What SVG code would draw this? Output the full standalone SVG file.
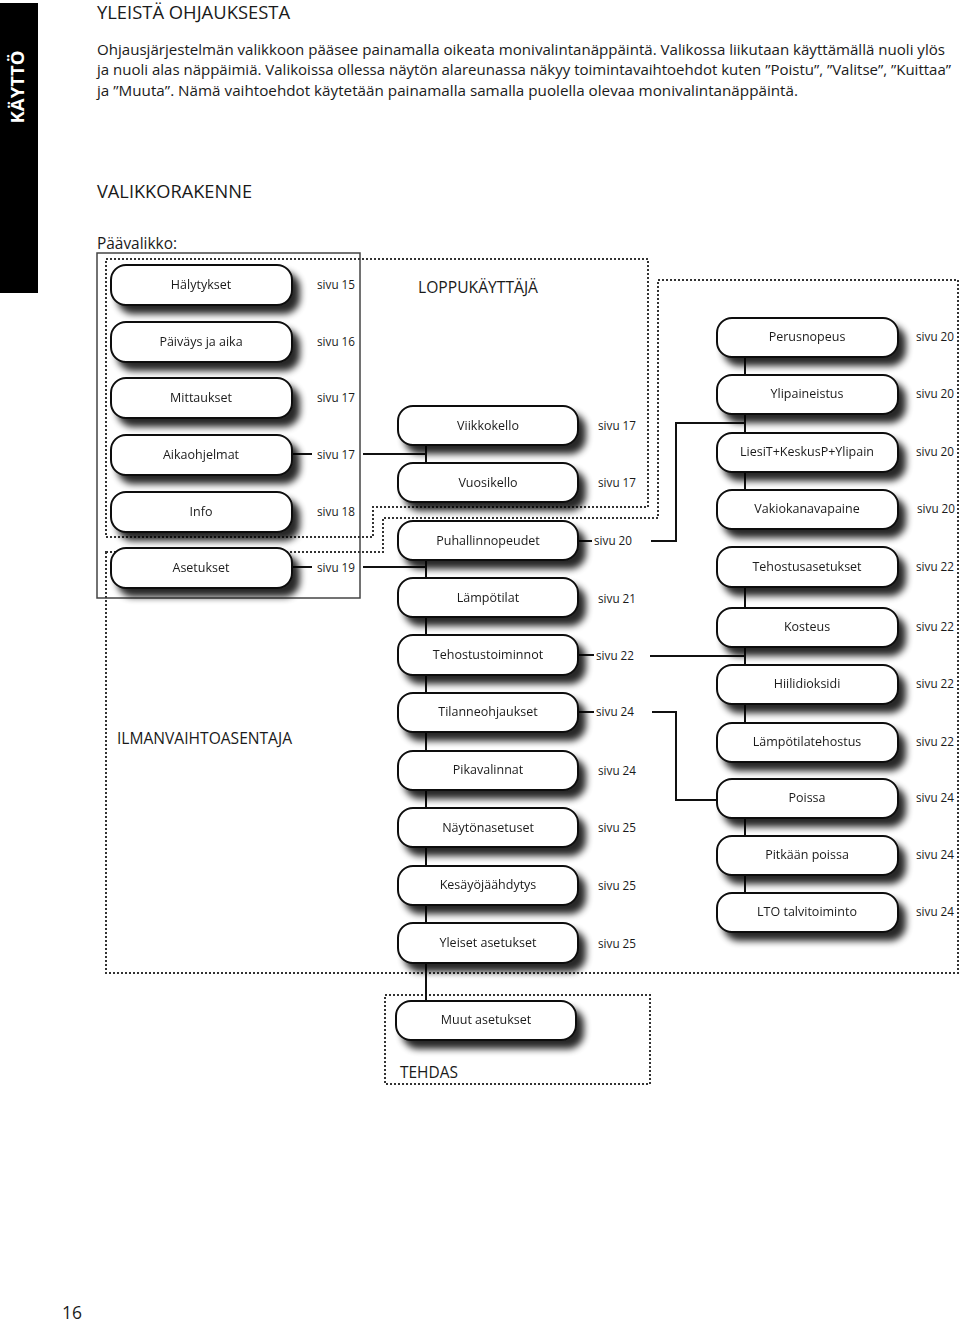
<svg xmlns="http://www.w3.org/2000/svg" width="960" height="1322" viewBox="0 0 960 1322">
<style>
text{font-family:"Open Sans","Liberation Sans",sans-serif;fill:#1a1a1a}
.h{font-size:19px}
.p{font-size:14.5px}
.reg{font-size:16.5px}
.lbl{font-size:12.5px;text-anchor:middle}
.sv{font-size:12.5px}
.bx{fill:#fff;stroke:#111;stroke-width:2}
.dot{fill:none;stroke:#333;stroke-width:2;stroke-dasharray:2 2}
.ln{fill:none;stroke:#111;stroke-width:2}
</style>
<defs>
<filter id="sh" x="-10%" y="-30%" width="130%" height="200%">
<feGaussianBlur in="SourceAlpha" stdDeviation="3.8"/>
<feOffset dx="7" dy="8" result="b"/>
<feComponentTransfer in="b" result="c"><feFuncA type="linear" slope="0.85"/></feComponentTransfer>
<feMerge><feMergeNode in="c"/><feMergeNode in="SourceGraphic"/></feMerge>
</filter>
</defs>
<rect width="960" height="1322" fill="#fff"/>
<g id="sidebar">
<rect x="0" y="3" width="38" height="290" fill="#000"/>
<text transform="translate(24,87) rotate(-90)" text-anchor="middle" style="font-size:17px;font-weight:bold;fill:#fff" textLength="73" lengthAdjust="spacingAndGlyphs">KÄYTTÖ</text>
</g>
<g id="header">
<text class="h" x="97" y="19" textLength="193" lengthAdjust="spacingAndGlyphs">YLEISTÄ OHJAUKSESTA</text>
<text class="p" x="97" y="55" textLength="848" lengthAdjust="spacingAndGlyphs">Ohjausjärjestelmän valikkoon pääsee painamalla oikeata monivalintanäppäintä. Valikossa liikutaan käyttämällä nuoli ylös</text>
<text class="p" x="97" y="75" textLength="854" lengthAdjust="spacingAndGlyphs">ja nuoli alas näppäimiä. Valikoissa ollessa näytön alareunassa näkyy toimintavaihtoehdot kuten ”Poistu”, ”Valitse”, ”Kuittaa”</text>
<text class="p" x="97" y="96" textLength="701" lengthAdjust="spacingAndGlyphs">ja ”Muuta”. Nämä vaihtoehdot käytetään painamalla samalla puolella olevaa monivalintanäppäintä.</text>
<text class="h" x="97" y="198" textLength="155" lengthAdjust="spacingAndGlyphs">VALIKKORAKENNE</text>
<text class="h" x="97" y="249" style="font-size:17px" textLength="80" lengthAdjust="spacingAndGlyphs">Päävalikko:</text>
<text x="62" y="1319" style="font-size:18px" textLength="20" lengthAdjust="spacingAndGlyphs">16</text>
</g>
<g id="regions">
<rect x="97" y="253" width="263" height="345" fill="none" stroke="#444" stroke-width="1.5"/>
<polygon class="dot" points="106,259 648,259 648,507 373,507 373,537 106,537"/>
<polygon class="dot" points="106,552 383,552 383,518 658,518 658,280 958,280 958,973 106,973"/>
<rect class="dot" x="385" y="995" width="265" height="89"/>
<text class="reg" x="418" y="293" textLength="120" lengthAdjust="spacingAndGlyphs">LOPPUKÄYTTÄJÄ</text>
<text class="reg" x="117" y="744" textLength="175" lengthAdjust="spacingAndGlyphs">ILMANVAIHTOASENTAJA</text>
<text class="reg" x="400" y="1078" textLength="58" lengthAdjust="spacingAndGlyphs">TEHDAS</text>
</g>
<g id="connectors">
<path class="ln" d="M293,454H312M363,454H426"/>
<path class="ln" d="M293,567H312M363,567H426"/>
<path class="ln" d="M426,445V463M426,560V578M426,617V635M426,675V693M426,732V751M426,790V808M426,847V866M426,905V923M426,962V1001"/>
<path class="ln" d="M578,541H592M651,541H676V423H745"/>
<path class="ln" d="M577,655H594M650,656H745"/>
<path class="ln" d="M577,712H594M652,712H676V800H717"/>
<path class="ln" d="M745,357V375M745,414V433M745,472V490M745,587V608M745,647V665M745,704V723M745,818V836M745,875V893"/>
</g>
<g id="nodes" filter="url(#sh)">
<g id="n-halytykset"><rect class="bx" x="111" y="265" width="181" height="40" rx="15"/><text class="lbl" x="201" y="289">Hälytykset</text></g>
<g id="n-paivays"><rect class="bx" x="111" y="322" width="181" height="40" rx="15"/><text class="lbl" x="201" y="346">Päiväys ja aika</text></g>
<g id="n-mittaukset"><rect class="bx" x="111" y="378" width="181" height="40" rx="15"/><text class="lbl" x="201" y="402">Mittaukset</text></g>
<g id="n-aikaohjelmat"><rect class="bx" x="111" y="435" width="181" height="40" rx="15"/><text class="lbl" x="201" y="459">Aikaohjelmat</text></g>
<g id="n-info"><rect class="bx" x="111" y="492" width="181" height="40" rx="15"/><text class="lbl" x="201" y="516">Info</text></g>
<g id="n-asetukset"><rect class="bx" x="111" y="548" width="181" height="40" rx="15"/><text class="lbl" x="201" y="572">Asetukset</text></g>

<g id="n-viikkokello"><rect class="bx" x="398" y="406" width="180" height="39" rx="15"/><text class="lbl" x="488" y="430">Viikkokello</text></g>
<g id="n-vuosikello"><rect class="bx" x="398" y="463" width="180" height="39" rx="15"/><text class="lbl" x="488" y="487">Vuosikello</text></g>
<g id="n-puhallinnopeudet"><rect class="bx" x="398" y="521" width="180" height="39" rx="15"/><text class="lbl" x="488" y="545">Puhallinnopeudet</text></g>
<g id="n-lampotilat"><rect class="bx" x="398" y="578" width="180" height="39" rx="15"/><text class="lbl" x="488" y="602">Lämpötilat</text></g>
<g id="n-tehostustoiminnot"><rect class="bx" x="398" y="635" width="180" height="40" rx="15"/><text class="lbl" x="488" y="659">Tehostustoiminnot</text></g>
<g id="n-tilanneohjaukset"><rect class="bx" x="398" y="693" width="180" height="39" rx="15"/><text class="lbl" x="488" y="716">Tilanneohjaukset</text></g>
<g id="n-pikavalinnat"><rect class="bx" x="398" y="751" width="180" height="39" rx="15"/><text class="lbl" x="488" y="774">Pikavalinnat</text></g>
<g id="n-naytonasetuset"><rect class="bx" x="398" y="808" width="180" height="39" rx="15"/><text class="lbl" x="488" y="832">Näytönasetuset</text></g>
<g id="n-kesayojaahdytys"><rect class="bx" x="398" y="866" width="180" height="39" rx="15"/><text class="lbl" x="488" y="889">Kesäyöjäähdytys</text></g>
<g id="n-yleiset"><rect class="bx" x="398" y="923" width="180" height="40" rx="15"/><text class="lbl" x="488" y="947">Yleiset asetukset</text></g>
<g id="n-muut"><rect class="bx" x="396" y="1001" width="180" height="39" rx="15"/><text class="lbl" x="486" y="1024">Muut asetukset</text></g>

<g id="n-perusnopeus"><rect class="bx" x="717" y="318" width="181" height="39" rx="15"/><text class="lbl" x="807" y="341">Perusnopeus</text></g>
<g id="n-ylipaineistus"><rect class="bx" x="717" y="375" width="181" height="39" rx="15"/><text class="lbl" x="807" y="398">Ylipaineistus</text></g>
<g id="n-liesit"><rect class="bx" x="717" y="433" width="181" height="39" rx="15"/><text class="lbl" x="807" y="456">LiesiT+KeskusP+Ylipain</text></g>
<g id="n-vakiokanavapaine"><rect class="bx" x="717" y="490" width="181" height="39" rx="15"/><text class="lbl" x="807" y="513">Vakiokanavapaine</text></g>
<g id="n-tehostusasetukset"><rect class="bx" x="717" y="547" width="181" height="40" rx="15"/><text class="lbl" x="807" y="571">Tehostusasetukset</text></g>
<g id="n-kosteus"><rect class="bx" x="717" y="608" width="181" height="39" rx="15"/><text class="lbl" x="807" y="631">Kosteus</text></g>
<g id="n-hiilidioksidi"><rect class="bx" x="717" y="665" width="181" height="39" rx="15"/><text class="lbl" x="807" y="688">Hiilidioksidi</text></g>
<g id="n-lampotilatehostus"><rect class="bx" x="717" y="723" width="181" height="39" rx="15"/><text class="lbl" x="807" y="746">Lämpötilatehostus</text></g>
<g id="n-poissa"><rect class="bx" x="717" y="779" width="181" height="39" rx="15"/><text class="lbl" x="807" y="802">Poissa</text></g>
<g id="n-pitkaan"><rect class="bx" x="717" y="836" width="181" height="39" rx="15"/><text class="lbl" x="807" y="859">Pitkään poissa</text></g>
<g id="n-lto"><rect class="bx" x="717" y="893" width="181" height="39" rx="15"/><text class="lbl" x="807" y="916">LTO talvitoiminto</text></g>
</g>
<g id="pages">
<text class="sv" x="317" y="289" textLength="38" lengthAdjust="spacingAndGlyphs">sivu 15</text>
<text class="sv" x="317" y="346" textLength="38" lengthAdjust="spacingAndGlyphs">sivu 16</text>
<text class="sv" x="317" y="402" textLength="38" lengthAdjust="spacingAndGlyphs">sivu 17</text>
<text class="sv" x="317" y="459" textLength="38" lengthAdjust="spacingAndGlyphs">sivu 17</text>
<text class="sv" x="317" y="516" textLength="38" lengthAdjust="spacingAndGlyphs">sivu 18</text>
<text class="sv" x="317" y="572" textLength="38" lengthAdjust="spacingAndGlyphs">sivu 19</text>
<text class="sv" x="598" y="430" textLength="38" lengthAdjust="spacingAndGlyphs">sivu 17</text>
<text class="sv" x="598" y="487" textLength="38" lengthAdjust="spacingAndGlyphs">sivu 17</text>
<text class="sv" x="594" y="545" textLength="38" lengthAdjust="spacingAndGlyphs">sivu 20</text>
<text class="sv" x="598" y="603" textLength="38" lengthAdjust="spacingAndGlyphs">sivu 21</text>
<text class="sv" x="596" y="660" textLength="38" lengthAdjust="spacingAndGlyphs">sivu 22</text>
<text class="sv" x="596" y="716" textLength="38" lengthAdjust="spacingAndGlyphs">sivu 24</text>
<text class="sv" x="598" y="775" textLength="38" lengthAdjust="spacingAndGlyphs">sivu 24</text>
<text class="sv" x="598" y="832" textLength="38" lengthAdjust="spacingAndGlyphs">sivu 25</text>
<text class="sv" x="598" y="890" textLength="38" lengthAdjust="spacingAndGlyphs">sivu 25</text>
<text class="sv" x="598" y="948" textLength="38" lengthAdjust="spacingAndGlyphs">sivu 25</text>
<text class="sv" x="916" y="341" textLength="38" lengthAdjust="spacingAndGlyphs">sivu 20</text>
<text class="sv" x="916" y="398" textLength="38" lengthAdjust="spacingAndGlyphs">sivu 20</text>
<text class="sv" x="916" y="456" textLength="38" lengthAdjust="spacingAndGlyphs">sivu 20</text>
<text class="sv" x="917" y="513" textLength="38" lengthAdjust="spacingAndGlyphs">sivu 20</text>
<text class="sv" x="916" y="571" textLength="38" lengthAdjust="spacingAndGlyphs">sivu 22</text>
<text class="sv" x="916" y="631" textLength="38" lengthAdjust="spacingAndGlyphs">sivu 22</text>
<text class="sv" x="916" y="688" textLength="38" lengthAdjust="spacingAndGlyphs">sivu 22</text>
<text class="sv" x="916" y="746" textLength="38" lengthAdjust="spacingAndGlyphs">sivu 22</text>
<text class="sv" x="916" y="802" textLength="38" lengthAdjust="spacingAndGlyphs">sivu 24</text>
<text class="sv" x="916" y="859" textLength="38" lengthAdjust="spacingAndGlyphs">sivu 24</text>
<text class="sv" x="916" y="916" textLength="38" lengthAdjust="spacingAndGlyphs">sivu 24</text>
</g>
</svg>
